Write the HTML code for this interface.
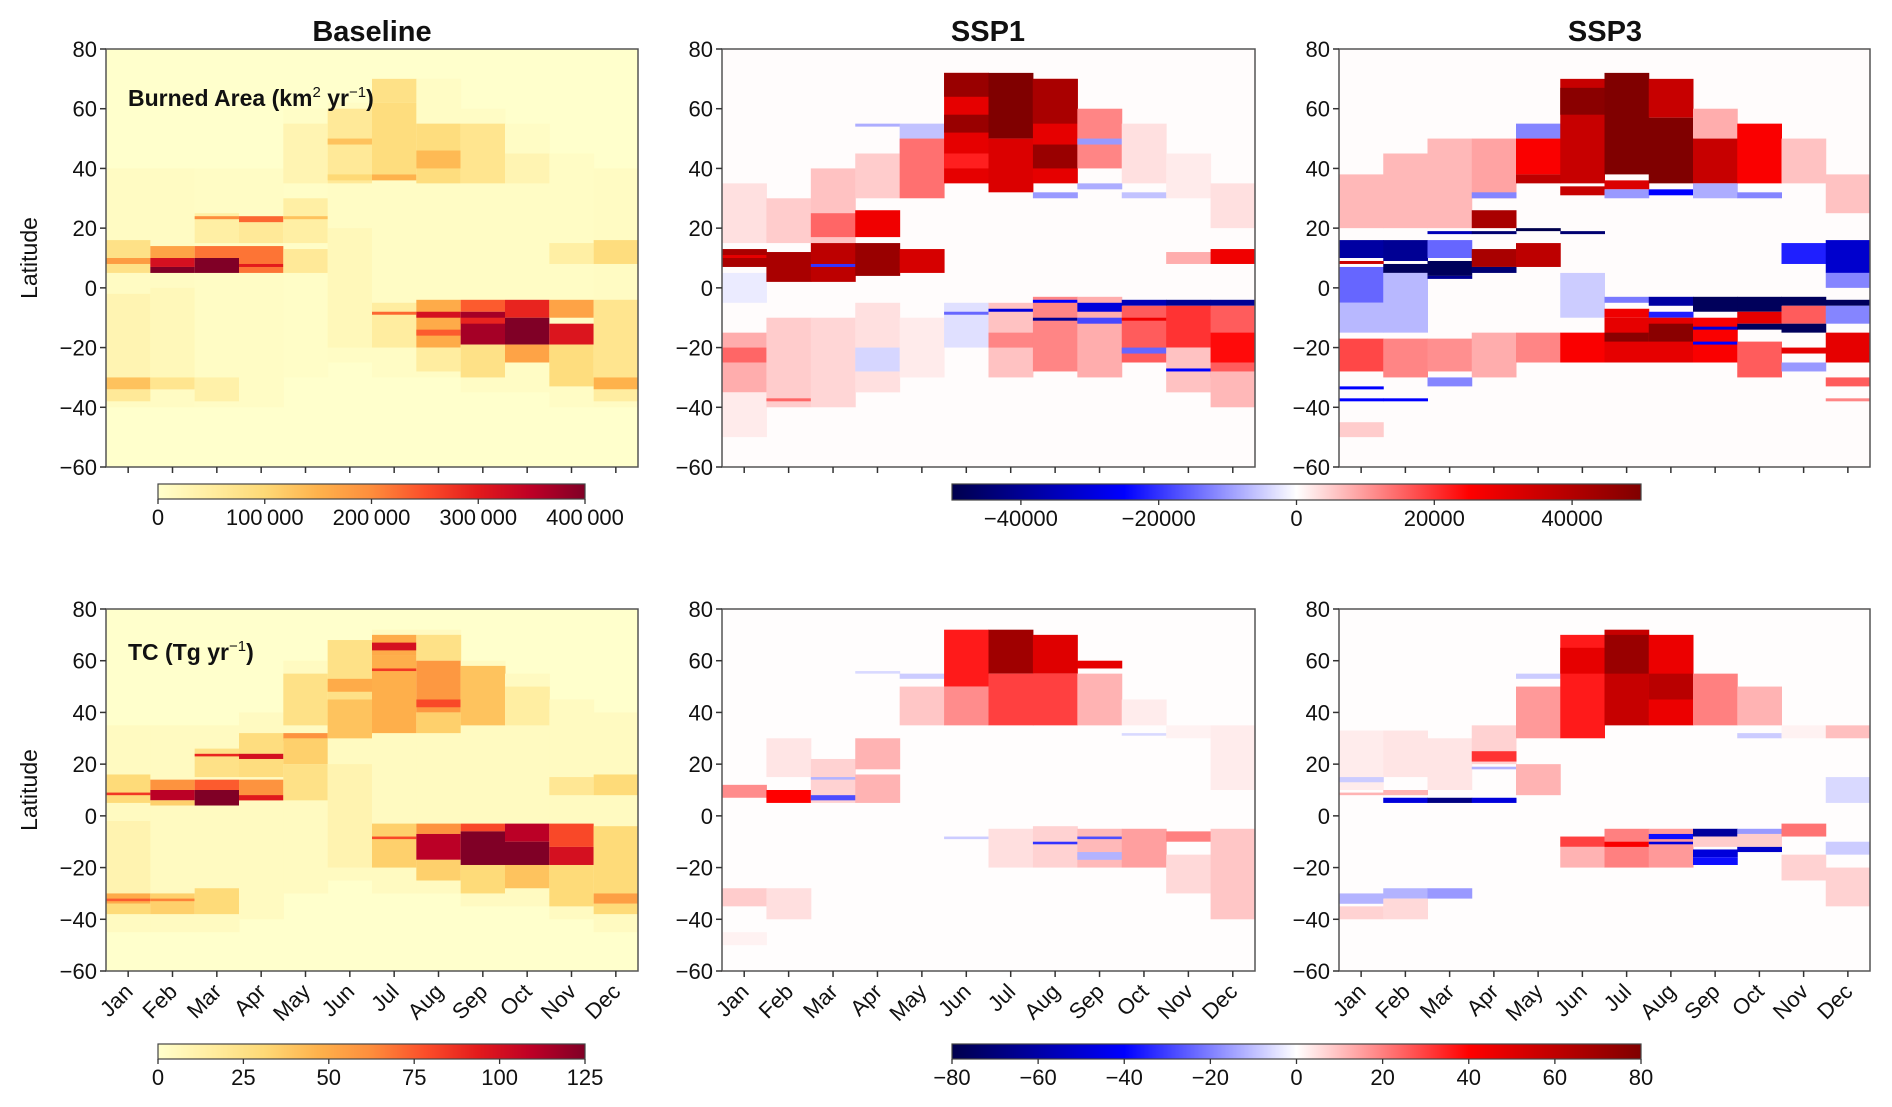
<!DOCTYPE html>
<html><head><meta charset="utf-8"><style>
html,body{margin:0;padding:0;background:#fff;}
svg{display:block;font-family:"Liberation Sans","DejaVu Sans",sans-serif;}
</style></head><body>
<svg id="fig" width="1892" height="1107" viewBox="0 0 1892 1107" xmlns="http://www.w3.org/2000/svg">
<defs id="defs"></defs>
</svg>
<script>
// ---------- data: per-month latitude bands [latTop, latBottom, value] ----------
const months = ["Jan","Feb","Mar","Apr","May","Jun","Jul","Aug","Sep","Oct","Nov","Dec"];
const latTicks = [80,60,40,20,0,-20,-40,-60];
const baCbTicks = [0,100000,200000,300000,400000];
const baCbLabels = ["0","100\u2009000","200\u2009000","300\u2009000","400\u2009000"];
const tcCbTicks = [0,25,50,75,100,125];
const baDiffTicks = [-40000,-20000,0,20000,40000];
const tcDiffTicks = [-80,-60,-40,-20,0,20,40,60,80];

// Baseline burned area (thousand km2/yr)
const baseBA = [
 [[40,-40,10],[16,5,80],[10,8,180],[-2,-30,30],[-30,-34,130],[-34,-38,60]],
 [[40,-40,10],[14,10,170],[10,7,320],[7,5,400],[0,-30,20],[-30,-34,70]],
 [[40,-40,8],[25,15,45],[24,23,200],[14,10,220],[10,5,400],[-30,-38,40]],
 [[40,-40,8],[22,15,60],[24,22,230],[14,5,220],[8,7,300]],
 [[60,-30,6],[55,35,30],[30,15,45],[24,23,130],[13,5,60]],
 [[62,-25,8],[60,35,60],[50,48,130],[38,36,100],[20,-20,20]],
 [[70,-30,8],[70,62,80],[62,38,90],[38,36,150],[-5,-20,50],[-8,-9,230]],
 [[70,-30,8],[55,35,90],[46,40,140],[-4,-20,160],[-8,-10,320],[-14,-16,240],[-20,-28,50]],
 [[60,-35,8],[55,35,70],[-4,-8,240],[-8,-19,370],[-10,-12,290],[-19,-30,80]],
 [[55,-35,8],[45,35,30],[-4,-10,290],[-10,-19,400],[-19,-25,170]],
 [[45,-40,8],[15,8,45],[-4,-10,170],[-12,-19,310],[-19,-33,90]],
 [[40,-40,10],[16,8,90],[-4,-30,70],[-30,-34,150],[-34,-38,50]]
];
// Baseline total carbon (Tg/yr)
const baseTC = [
 [[35,-45,4],[16,5,30],[9,8,85],[-2,-30,10],[-30,-34,50],[-32,-33,75],[-34,-38,30]],
 [[35,-45,4],[14,10,60],[10,6,110],[6,4,35],[-30,-38,35],[-32,-33,65]],
 [[35,-45,4],[26,15,25],[24,23,90],[14,10,75],[10,4,125],[-28,-38,30]],
 [[40,-40,4],[32,15,28],[24,22,100],[14,6,60],[8,6,95]],
 [[60,-30,4],[55,35,25],[32,29,60],[30,20,35],[20,6,25]],
 [[68,-25,4],[68,30,25],[53,48,50],[45,30,40],[20,-20,10]],
 [[72,-30,4],[70,62,50],[67,64,100],[62,32,48],[57,56,85],[-3,-20,35],[-8,-9,80]],
 [[72,-30,4],[70,60,25],[60,40,58],[45,42,80],[40,32,35],[-3,-7,60],[-7,-17,110],[-17,-25,35]],
 [[60,-35,4],[58,35,40],[-3,-6,80],[-6,-19,125],[-19,-30,30]],
 [[55,-35,4],[50,35,15],[-3,-10,110],[-10,-19,125],[-19,-28,40]],
 [[45,-40,4],[15,8,20],[-3,-12,80],[-12,-19,100],[-19,-35,30]],
 [[40,-45,4],[16,8,30],[-4,-30,30],[-30,-34,55],[-34,-38,30]]
];
// SSP1 burned area change (thousand km2/yr)
const ssp1BA = [
 [[35,15,3],[13,7,42],[11,10,30],[5,-5,-2],[-15,-35,8],[-20,-25,15],[-35,-50,2]],
 [[30,15,5],[12,2,42],[-10,-40,5],[-37,-38,15]],
 [[40,15,6],[25,17,15],[15,2,38],[8,7,-20],[-10,-40,4]],
 [[45,30,5],[55,54,-8],[26,17,28],[15,4,45],[-5,-35,3],[-20,-28,-4]],
 [[55,45,-6],[50,30,14],[13,5,33],[-10,-30,2]],
 [[72,35,30],[72,64,45],[58,52,45],[45,40,22],[-5,-20,-3],[-8,-9,-15]],
 [[72,50,50],[50,32,32],[-5,-30,6],[-7,-8,-30],[-15,-20,12]],
 [[70,35,30],[70,55,42],[48,40,45],[32,30,-10],[-3,-28,12],[-4,-5,-25],[-10,-11,-40]],
 [[60,40,12],[50,48,-10],[35,33,-8],[-3,-30,8],[-5,-8,-30],[-10,-12,-18]],
 [[55,35,3],[32,30,-6],[-4,-6,-35],[-6,-25,16],[-10,-11,28],[-20,-22,-15]],
 [[45,30,2],[12,8,8],[-4,-6,-40],[-6,-20,20],[-20,-35,6],[-27,-28,-25]],
 [[35,20,3],[13,8,28],[-4,-6,-40],[-6,-30,16],[-15,-25,24],[-28,-40,7]]
];
// SSP3 burned area change
const ssp3BA = [
 [[38,20,7],[16,10,-38],[9,8,35],[7,-5,-15],[-5,-15,-7],[-17,-28,18],[-33,-34,-25],[-37,-38,-25],[-45,-50,5]],
 [[45,20,7],[16,9,-40],[8,5,-48],[5,-15,-7],[-17,-30,12],[-37,-38,-25]],
 [[50,20,7],[19,18,-35],[16,10,-15],[9,4,-48],[4,3,-40],[-17,-28,11],[-30,-33,-12]],
 [[50,30,9],[32,30,-12],[26,20,42],[19,18,-45],[13,7,42],[7,5,-45],[-15,-30,8]],
 [[55,50,-12],[50,38,26],[38,35,38],[20,19,-50],[15,7,38],[-15,-25,12]],
 [[70,35,36],[67,58,48],[34,31,36],[19,18,-45],[5,-10,-5],[-15,-25,26]],
 [[72,38,50],[36,33,32],[33,30,-10],[-3,-5,-13],[-7,-10,28],[-10,-25,30],[-15,-18,48]],
 [[70,57,36],[57,35,50],[33,31,-25],[-3,-6,-38],[-8,-10,-22],[-10,-25,30],[-12,-18,48]],
 [[60,50,8],[50,35,36],[35,30,-8],[-3,-8,-48],[-10,-25,26],[-13,-14,-30],[-18,-19,-25]],
 [[55,35,26],[32,30,-12],[-3,-8,-48],[-8,-12,30],[-12,-14,-48],[-18,-30,16]],
 [[50,35,6],[15,8,-22],[-3,-6,-48],[-6,-12,16],[-12,-15,-48],[-20,-22,30],[-25,-28,-10]],
 [[38,25,6],[16,5,-32],[5,0,-12],[-4,-6,-48],[-6,-12,-12],[-15,-25,30],[-30,-33,16],[-37,-38,12]]
];
// SSP1 total carbon change (Tg/yr)
const ssp1TC = [
 [[12,7,18],[-28,-35,8],[-45,-50,2]],
 [[30,15,4],[10,5,40],[-28,-40,5]],
 [[22,5,7],[15,14,-12],[8,6,-28]],
 [[56,55,-6],[30,18,12],[16,5,12]],
 [[55,53,-8],[50,35,9]],
 [[72,50,36],[50,35,18],[-8,-9,-8]],
 [[72,55,70],[55,35,30],[-5,-20,5]],
 [[70,55,50],[55,35,30],[-4,-20,7],[-10,-11,-32]],
 [[60,57,48],[55,35,12],[-5,-20,11],[-8,-9,-28],[-14,-17,-12]],
 [[45,35,3],[32,31,-6],[-5,-20,15]],
 [[35,30,2],[-6,-10,20],[-15,-30,6]],
 [[35,10,3],[-5,-40,9]]
];
// SSP3 total carbon change
const ssp3TC = [
 [[33,10,3],[15,13,-8],[9,8,12],[-30,-34,-12],[-35,-40,7]],
 [[33,15,4],[10,8,12],[7,5,-48],[-28,-32,-12],[-32,-40,6]],
 [[30,10,4],[7,5,-68],[-28,-32,-16]],
 [[35,20,7],[25,21,32],[19,18,-12],[7,5,-48]],
 [[55,53,-8],[50,30,16],[20,8,12]],
 [[70,30,36],[65,55,48],[-8,-12,30],[-12,-20,12]],
 [[72,35,58],[70,55,72],[-5,-20,20],[-10,-12,42]],
 [[70,35,46],[55,45,62],[-5,-20,16],[-7,-9,-38],[-10,-11,-48]],
 [[55,35,20],[-5,-8,-62],[-8,-12,8],[-13,-16,-48],[-16,-19,-38]],
 [[50,35,12],[32,30,-8],[-5,-7,-16],[-7,-12,8],[-12,-14,-52]],
 [[35,30,2],[-3,-8,22],[-15,-25,7]],
 [[35,30,10],[15,5,-6],[-10,-15,-8],[-20,-35,7]]
];

// ---------- colormaps ----------
const ylorrd = [[255,255,204],[255,237,160],[254,217,118],[254,178,76],[253,141,60],[252,78,42],[227,26,28],[189,0,38],[128,0,38]];
const seismic = [[0,0,77],[0,0,255],[255,255,255],[255,0,0],[128,0,0]];
function interp(stops,t){t=Math.max(0,Math.min(1,t));const n=stops.length-1;const f=t*n;const i=Math.min(n-1,Math.floor(f));const r=f-i;const a=stops[i],b=stops[i+1];
 return `rgb(${Math.round(a[0]+(b[0]-a[0])*r)},${Math.round(a[1]+(b[1]-a[1])*r)},${Math.round(a[2]+(b[2]-a[2])*r)})`;}
const NS="http://www.w3.org/2000/svg";
const svg=document.getElementById('fig');
const defs=document.getElementById('defs');
function el(tag,attrs,parent){const e=document.createElementNS(NS,tag);for(const k in attrs)e.setAttribute(k,attrs[k]);(parent||svg).appendChild(e);return e;}

// ---------- panels ----------
const cols=[[106,638],[722,1255],[1339,1870]];
const rows=[[49,467],[609,971]];
function drawPanel(p){
 const [x0,x1]=cols[p.col],[y0,y1]=rows[p.row];
 const g=el('g',{});
 
 
 const xs=i=>x0+(x1-x0)*i/12;
 const ys=lat=>y0+(y1-y0)*(80-lat)/140;
 const color=v=>p.div?interp(seismic,(v/p.vmax+1)/2):interp(ylorrd,v/p.vmax);
 el('rect',{x:x0,y:y0,width:x1-x0,height:y1-y0,fill:color(p.div?0.3:0)},g);
 p.data.forEach((bands,i)=>{
  bands.forEach(b=>{
   const r=el('rect',{x:xs(i),y:ys(b[0]),width:xs(i+1)-xs(i)+0.5,height:Math.max(1,ys(b[1])-ys(b[0])),fill:color(b[2])},g);
   
   
  });
 });
 el('rect',{x:x0,y:y0,width:x1-x0,height:y1-y0,fill:'none',stroke:'#555','stroke-width':1.5},g);
 latTicks.forEach(t=>{
  const y=ys(t);
  el('line',{x1:x0-6,x2:x0,y1:y,y2:y,stroke:'#333','stroke-width':1.5},g);
  const tx=el('text',{x:x0-9,y:y+8,'text-anchor':'end','font-size':22,fill:'#111'},g);
  tx.textContent=t<0?'\u2212'+(-t):String(t);
  
  
 });
 months.forEach((m,i)=>{
  const x=(xs(i)+xs(i+1))/2;
  el('line',{x1:x,x2:x,y1:y1,y2:y1+6,stroke:'#333','stroke-width':1.5},g);
  if(p.row===1){
   const tx=el('text',{x:x+6,y:y1+22,'text-anchor':'end','font-size':22,fill:'#111',transform:`rotate(-45 ${x+6} ${y1+22})`},g);
   tx.textContent=m;
   
   
  }
 });
 if(p.col===0){
  const yc=(y0+y1)/2;
  const lt=el('text',{x:37,y:yc,'text-anchor':'middle','font-size':23,fill:'#111',transform:`rotate(-90 37 ${yc})`},g);
  lt.textContent='Latitude';
  
  
 }
}
const panels=[
 {name:'baseline-burned-area-heatmap',col:0,row:0,data:baseBA,vmax:400,div:false},
 {name:'ssp1-burned-area-heatmap',col:1,row:0,data:ssp1BA,vmax:50,div:true},
 {name:'ssp3-burned-area-heatmap',col:2,row:0,data:ssp3BA,vmax:50,div:true},
 {name:'baseline-tc-heatmap',col:0,row:1,data:baseTC,vmax:125,div:false},
 {name:'ssp1-tc-heatmap',col:1,row:1,data:ssp1TC,vmax:80,div:true},
 {name:'ssp3-tc-heatmap',col:2,row:1,data:ssp3TC,vmax:80,div:true}
];
panels.forEach(drawPanel);

// titles
[['Baseline',372,'baseline-title'],['SSP1',988,'ssp1-title'],['SSP3',1605,'ssp3-title']].forEach(t=>{
 const e=el('text',{x:t[1],y:41,'text-anchor':'middle','font-size':29,'font-weight':'bold',fill:'#111'});
 e.textContent=t[0];
 
 
});
// inset labels
const l1=el('text',{x:128,y:106,'font-size':23,'font-weight':'bold',fill:'#111'});
l1.innerHTML='Burned Area (km<tspan dy="-9" font-size="15" font-weight="normal">2</tspan><tspan dy="9"> yr</tspan><tspan dy="-9" font-size="15" font-weight="normal">\u22121</tspan><tspan dy="9">)</tspan>';


const l2=el('text',{x:128,y:660,'font-size':23,'font-weight':'bold',fill:'#111'});
l2.innerHTML='TC (Tg yr<tspan dy="-9" font-size="15" font-weight="normal">\u22121</tspan><tspan dy="9">)</tspan>';



// colorbars
function gradient(id,stops){const lg=el('linearGradient',{id:id,x1:0,x2:1,y1:0,y2:0},defs);
 stops.forEach((s,i)=>el('stop',{offset:i/(stops.length-1),'stop-color':`rgb(${s[0]},${s[1]},${s[2]})`},lg));}
gradient('gYl',ylorrd);gradient('gSe',seismic);
function colorbar(name,x0,x1,y0,y1,grad,vmin,vmax,ticks,labels){
 const g=el('g',{});
 
 
 el('rect',{x:x0,y:y0,width:x1-x0,height:y1-y0,fill:`url(#${grad})`,stroke:'#444','stroke-width':1.2},g);
 ticks.forEach((t,i)=>{
  const x=x0+(x1-x0)*(t-vmin)/(vmax-vmin);
  el('line',{x1:x,x2:x,y1:y1,y2:y1+5,stroke:'#333','stroke-width':1.3},g);
  const tx=el('text',{x:x,y:y1+26,'text-anchor':'middle','font-size':22,fill:'#111'},g);
  tx.textContent=labels?labels[i]:(t<0?'\u2212'+(-t):String(t));
  
  
 });
}
colorbar('burned-area-baseline-colorbar',158,585,484,499,'gYl',0,400000,baCbTicks,baCbLabels);
colorbar('burned-area-change-colorbar',952,1641,484,500,'gSe',-50000,50000,baDiffTicks,null);
colorbar('tc-baseline-colorbar',158,585,1044,1059,'gYl',0,125,tcCbTicks,null);
colorbar('tc-change-colorbar',952,1641,1044,1059,'gSe',-80,80,tcDiffTicks,null);
</script>
</body></html>
